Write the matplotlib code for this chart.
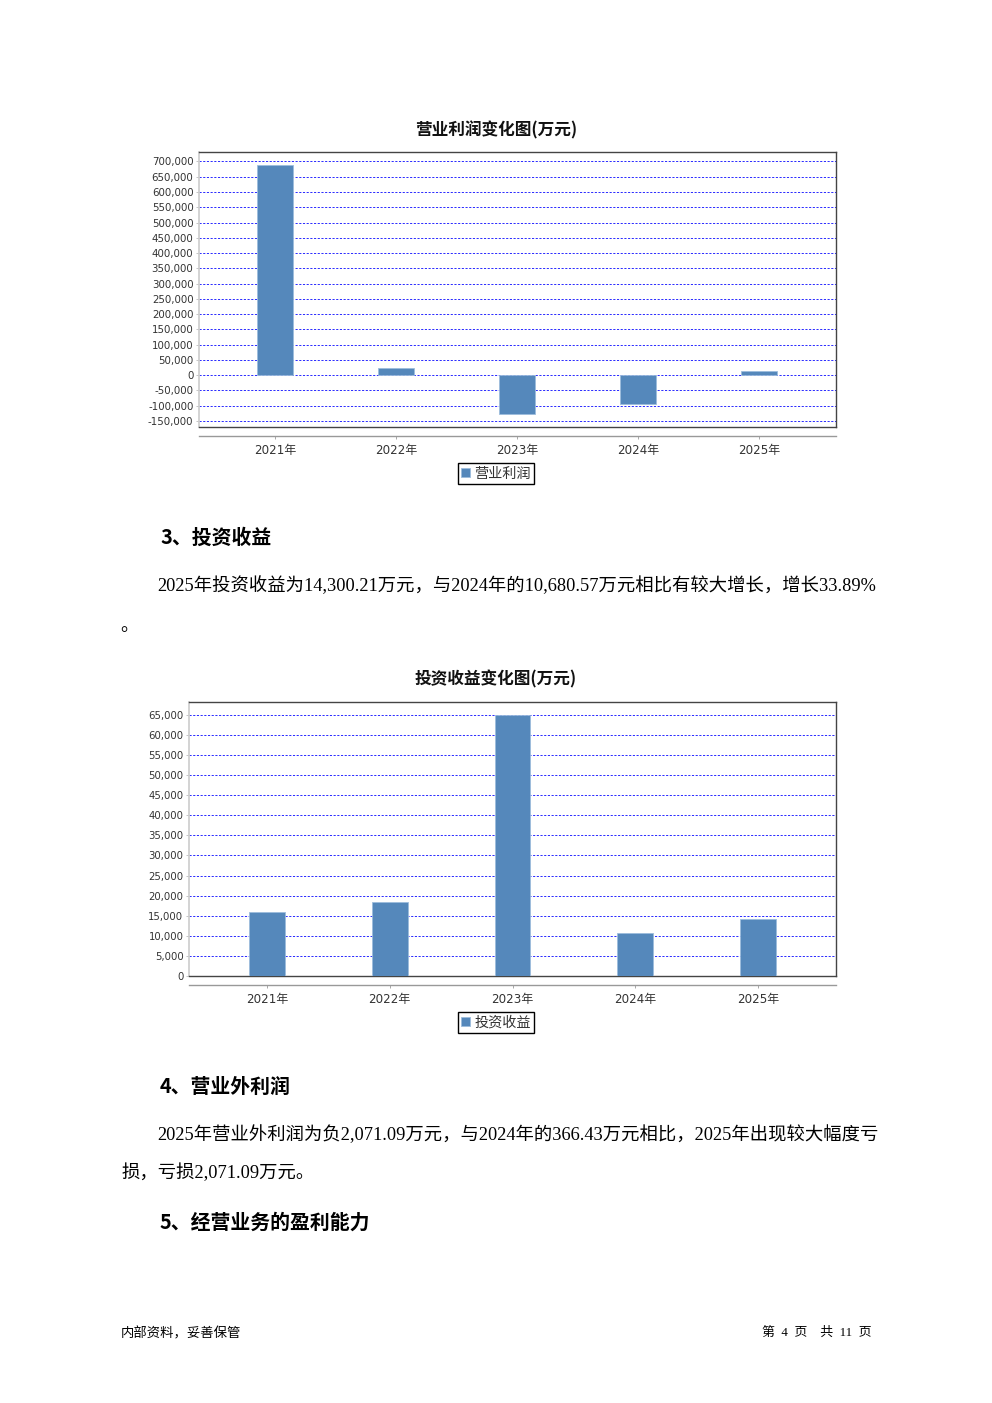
import matplotlib
matplotlib.use('Agg')
import matplotlib.pyplot as plt
from matplotlib.ticker import FuncFormatter

years = ['2021年', '2022年', '2023年', '2024年', '2025年']
op_profit = [690000, 24000, -128000, -94000, 13000]
op_ticks = list(range(-150000, 700001, 50000))
inv_income = [15900, 18300, 65000, 10680.57, 14300.21]
inv_ticks = list(range(0, 65001, 5000))

CJK = ['Noto Sans CJK SC', 'DejaVu Sans']
NUM = ['DejaVu Sans', 'Noto Sans CJK SC']
BODY = ['Liberation Serif', 'Noto Sans CJK SC']
BAR = '#5588bb'
W, H = 992, 1403

fig = plt.figure(figsize=(W / 100, H / 100), dpi=100)


def fx(px):
    return px / W


def fy(py):
    return 1 - py / H


def draw_chart(left, right, top, bottom, values, ticks, ylim, xlim, title, title_y, label, legend_y,
               ysize):
    ax = fig.add_axes([fx(left), fy(bottom), fx(right - left), (bottom - top) / H])
    x = list(range(len(values)))
    bars = ax.bar(x, values, width=0.29, color=BAR, edgecolor='#9dbddc', linewidth=0.6,
                  label=label, zorder=3)
    ax.set_xlim(*xlim)
    ax.set_ylim(*ylim)
    ax.set_yticks(ticks)
    ax.yaxis.set_major_formatter(FuncFormatter(lambda v, p: '{:,.0f}'.format(v)))
    ax.grid(axis='y', color='#2a2aff', linestyle=(0, (2.2, 1.6)), linewidth=0.7, zorder=1)
    ax.tick_params(axis='y', length=2, width=0.6, color='#bbbbbb', labelsize=ysize,
                   labelcolor='#333333', pad=2)
    ax.tick_params(axis='x', bottom=False, labelbottom=False)
    for s in ['top', 'right', 'bottom']:
        ax.spines[s].set_color('#444444')
        ax.spines[s].set_linewidth(1.0)
    ax.spines['left'].set_color('#cccccc')
    ax.spines['left'].set_linewidth(1.2)
    for t in ax.get_yticklabels():
        t.set_fontfamily(NUM)

    # category axis sits a little below the plot box
    sec = ax.secondary_xaxis(-9 / (bottom - top))
    sec.set_xticks(x)
    sec.set_xticklabels(years, fontsize=8.6, color='#333333')
    for t in sec.get_xticklabels():
        t.set_fontfamily(NUM)
    sec.tick_params(length=2, width=0.6, color='#999999', pad=3.5)
    sec.spines['bottom'].set_color('#999999')
    sec.spines['bottom'].set_linewidth(1.0)

    fig.text(fx(496), fy(title_y), title, fontsize=12, fontweight='bold',
             family=CJK, ha='center', va='center', color='#111111')

    leg = ax.legend(handles=[bars], loc='center', bbox_to_anchor=(fx(496), fy(legend_y)),
                    bbox_transform=fig.transFigure, fancybox=False, framealpha=1,
                    edgecolor='black', handlelength=0.6, handleheight=0.6, handletextpad=0.3,
                    borderpad=0.25, borderaxespad=0, prop={'family': CJK, 'size': 10.2})
    leg.get_frame().set_linewidth(1.0)
    for t in leg.get_texts():
        t.set_color('#333333')
    return ax


draw_chart(199, 836, 152, 427, op_profit, op_ticks, (-170000, 731000), (-0.628, 4.636),
           '营业利润变化图(万元)', 130, '营业利润', 473.5, 7.4)
draw_chart(189, 836, 702, 976, inv_income, inv_ticks, (0, 68200), (-0.635, 4.635),
           '投资收益变化图(万元)', 679, '投资收益', 1022.5, 7.3)

# page text
HEAD = 14.3
BODYSIZE = 13.2
fig.text(fx(160), fy(537), '3、投资收益', fontsize=HEAD, fontweight='bold', family=CJK,
         ha='left', va='center')
fig.text(fx(157), fy(586), '2025年投资收益为14,300.21万元，与2024年的10,680.57万元相比有较大增长，增长33.89%',
         fontsize=BODYSIZE, family=BODY, ha='left', va='center')
fig.text(fx(120), fy(627), '。', fontsize=BODYSIZE, family=BODY, ha='left', va='center')
fig.text(fx(160), fy(1086), '4、营业外利润', fontsize=HEAD, fontweight='bold', family=CJK,
         ha='left', va='center')
fig.text(fx(157), fy(1135), '2025年营业外利润为负2,071.09万元，与2024年的366.43万元相比，2025年出现较大幅度亏',
         fontsize=BODYSIZE, family=BODY, ha='left', va='center')
fig.text(fx(121), fy(1173), '损，亏损2,071.09万元。', fontsize=BODYSIZE, family=BODY, ha='left', va='center')
fig.text(fx(160), fy(1222), '5、经营业务的盈利能力', fontsize=HEAD, fontweight='bold', family=CJK,
         ha='left', va='center')
fig.text(fx(121), fy(1333), '内部资料，妥善保管', fontsize=9.6, family=CJK, ha='left', va='center')
fig.text(fx(871), fy(1333), '第  4  页    共  11  页', fontsize=9.3, family=BODY, ha='right', va='center')

fig.savefig('out.png', dpi=100)
